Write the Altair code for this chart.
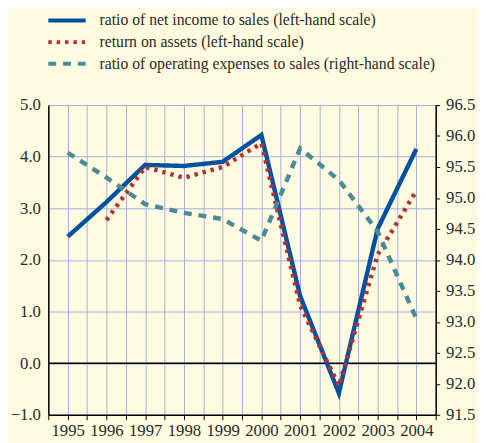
import altair as alt
import pandas as pd

years = [1995, 1996, 1997, 1998, 1999, 2000, 2001, 2002, 2003, 2004]
net_income = [2.45, 3.12, 3.84, 3.82, 3.90, 4.42, 1.30, -0.58, 2.60, 4.15]
roa_years = [1996, 1997, 1998, 1999, 2000, 2001, 2002, 2003, 2004]
roa = [2.77, 3.80, 3.59, 3.80, 4.26, 1.12, -0.44, 2.10, 3.34]
opex = [95.73, 95.33, 94.90, 94.76, 94.66, 94.31, 95.80, 95.29, 94.46, 93.05]

s_ni = "ratio of net income to sales (left-hand scale)"
s_roa = "return on assets (left-hand scale)"
s_op = "ratio of operating expenses to sales (right-hand scale)"
series = [s_ni, s_roa, s_op]
colors = ["#0052A0", "#B3312E", "#4B8A99"]
dashes = [[1, 0], [3.5, 5], [8, 7]]

left = pd.DataFrame(
    {"year": years + roa_years,
     "value": net_income + roa,
     "series": [s_ni] * len(years) + [s_roa] * len(roa_years)}
)
right = pd.DataFrame({"year": years, "value": opex, "series": [s_op] * len(years)})
zero = pd.DataFrame({"v": [0]})

FONT = "Liberation Serif"
TXT = "#2a2a2a"
x_vals = [1994.5 + 0.5 * i for i in range(21)]

x = alt.X(
    "year:Q",
    scale=alt.Scale(domain=[1994.5, 2004.5], nice=False, zero=False),
    axis=alt.Axis(
        values=x_vals, title=None, grid=True, gridColor="#9FAEE0", gridWidth=1,
        labelExpr="datum.value % 1 == 0 ? format(datum.value, 'd') : ''",
        tickSize=5, tickColor="black", domainColor="black", domainWidth=1.5,
        labelFont=FONT, labelFontSize=17, labelColor=TXT, labelPadding=3,
        labelOverlap=False, labelFlush=False,
    ),
)

color = alt.Color(
    "series:N",
    scale=alt.Scale(domain=series, range=colors),
    legend=alt.Legend(
        title=None, orient="none", legendX=-2, legendY=-97, direction="vertical",
        symbolType="stroke", symbolSize=1444, symbolStrokeWidth=4,
        labelFont=FONT, labelFontSize=16, labelColor=TXT, rowPadding=0,
        clipHeight=22, labelOffset=12, labelLimit=500,
    ),
)
dash = alt.StrokeDash("series:N", scale=alt.Scale(domain=series, range=dashes), legend=None)

left_lines = alt.Chart(left).mark_line(strokeWidth=4.5, strokeJoin="miter").encode(
    x=x,
    y=alt.Y(
        "value:Q",
        scale=alt.Scale(domain=[-1, 5], nice=False),
        axis=alt.Axis(
            values=[-1, 0, 1, 2, 3, 4, 5], format=".1f", title=None, grid=True,
            gridColor="#9FAEE0", ticks=False, domainColor="black", domainWidth=1.5,
            labelFont=FONT, labelFontSize=17, labelColor=TXT, labelPadding=8,
        ),
    ),
    color=color,
    strokeDash=dash,
    order=alt.Order("year:Q"),
)

zero_line = alt.Chart(zero).mark_rule(color="black", strokeWidth=1.5).encode(
    y=alt.Y("v:Q", scale=alt.Scale(domain=[-1, 5], nice=False))
)

right_line = alt.Chart(right).mark_line(strokeWidth=4.5).encode(
    x=x,
    y=alt.Y(
        "value:Q",
        scale=alt.Scale(domain=[91.5, 96.5], nice=False, zero=False),
        axis=alt.Axis(
            orient="right", values=[91.5 + 0.5 * i for i in range(11)], format=".1f",
            title=None, grid=False, tickSize=4, tickColor="black", domainColor="black",
            domainWidth=1.5, labelFont=FONT, labelFontSize=17, labelColor=TXT,
            labelPadding=6,
        ),
    ),
    color=color,
    strokeDash=dash,
)

left_layer = alt.layer(zero_line, left_lines)
chart = (
    alt.layer(left_layer, right_line)
    .resolve_scale(y="independent")
    .properties(
        width=394, height=315,
        autosize=alt.AutoSizeParams(type="none"),
        padding={"left": 41, "top": 95, "right": 43, "bottom": 25},
        background="#FFFBE0",
    )
    .configure_view(stroke=None)
)

chart.save("out.html", embed_options={"renderer": "svg", "actions": False})
